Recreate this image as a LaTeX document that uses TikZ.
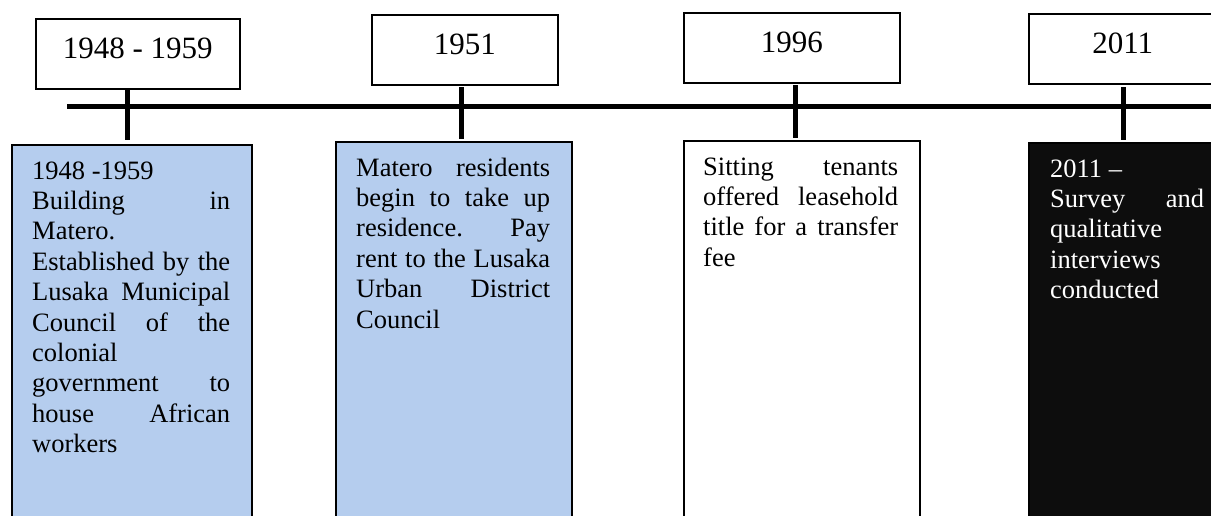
\documentclass[tikz,border=0pt]{standalone}
\usepackage{fontspec}
\setmainfont{Liberation Serif}
\definecolor{lowblue}{RGB}{181,205,238}
\definecolor{darkfill}{RGB}{13,13,13}
\hyphenpenalty=10000
\exhyphenpenalty=10000
\tolerance=10000
\hbadness=10000
\begin{document}
\begin{tikzpicture}[x=1pt,y=-1pt,
  yearbox/.style={draw=black, line width=1.6pt, fill=white, anchor=north west,
    inner sep=0pt, text height=40pt, text depth=30pt,
    font=\fontsize{31}{36}\selectfont},
  lowbox/.style={draw=black, line width=1.6pt, anchor=north west,
    minimum height=400pt, inner sep=0pt},
  lowtext/.style={anchor=north west, inner sep=0pt, align=justify,
    font=\fontsize{26.5}{30.4}\selectfont},
  tl/.style={line width=5pt, black}]
\useasboundingbox (0,0) rectangle (1211,515);
\clip (0,0) rectangle (1211,515);

% top year boxes
\node[yearbox, minimum width=204pt] (y1) at (35,18) {1948 - 1959};
\node[yearbox, minimum width=186pt] (y2) at (371,14) {1951};
\node[yearbox, minimum width=216pt] (y3) at (683,12) {1996};
\node[yearbox, minimum width=188pt] (y4) at (1028,13) {2011};

% timeline
\coordinate (lineL) at (67,106);
\coordinate (lineR) at (1220,106);
\draw[tl] (lineL) -- (lineR);

% lower boxes
\node[lowbox, fill=lowblue, minimum width=240pt] (b1) at (11,144) {};
\node[lowbox, fill=lowblue, minimum width=236pt] (b2) at (335,141) {};
\node[lowbox, fill=white, minimum width=236pt] (b3) at (683,140) {};
\node[lowbox, fill=darkfill, minimum width=197pt] (b4) at (1028,142) {};

% ticks
\coordinate (k1a) at (127,88);  \coordinate (k1b) at (127,140);
\coordinate (k2a) at (461,87);  \coordinate (k2b) at (461,139);
\coordinate (k3a) at (795,85);  \coordinate (k3b) at (795,138);
\coordinate (k4a) at (1123,87); \coordinate (k4b) at (1123,140);
\draw[tl] (k1a) -- (k1b);
\draw[tl] (k2a) -- (k2b);
\draw[tl] (k3a) -- (k3b);
\draw[tl] (k4a) -- (k4b);

% texts
\node[lowtext, text width=198pt] (t1) at ([shift={(21,13.7)}]b1.north west)
 {\strut 1948 -1959\newline
  Building in\linebreak
  Matero.\newline
  Established by the\linebreak
  Lusaka Municipal\linebreak
  Council of the\linebreak
  colonial\newline
  government to\linebreak
  house African\linebreak
  workers};
\node[lowtext, text width=194pt] (t2) at ([shift={(21,13.7)}]b2.north west)
 {\strut Matero residents\linebreak
  begin to take up\linebreak
  residence. Pay\linebreak
  rent to the Lusaka\linebreak
  Urban District\linebreak
  Council};
\node[lowtext, text width=195pt] (t3) at ([shift={(20,13.7)}]b3.north west)
 {\strut Sitting tenants\linebreak
  offered leasehold\linebreak
  title for a transfer\linebreak
  fee};
\node[lowtext, text width=154pt, text=white] (t4) at ([shift={(22,13.7)}]b4.north west)
 {\strut 2011 --\newline
  Survey and\linebreak
  qualitative\newline
  interviews\newline
  conducted};
\end{tikzpicture}
\end{document}
